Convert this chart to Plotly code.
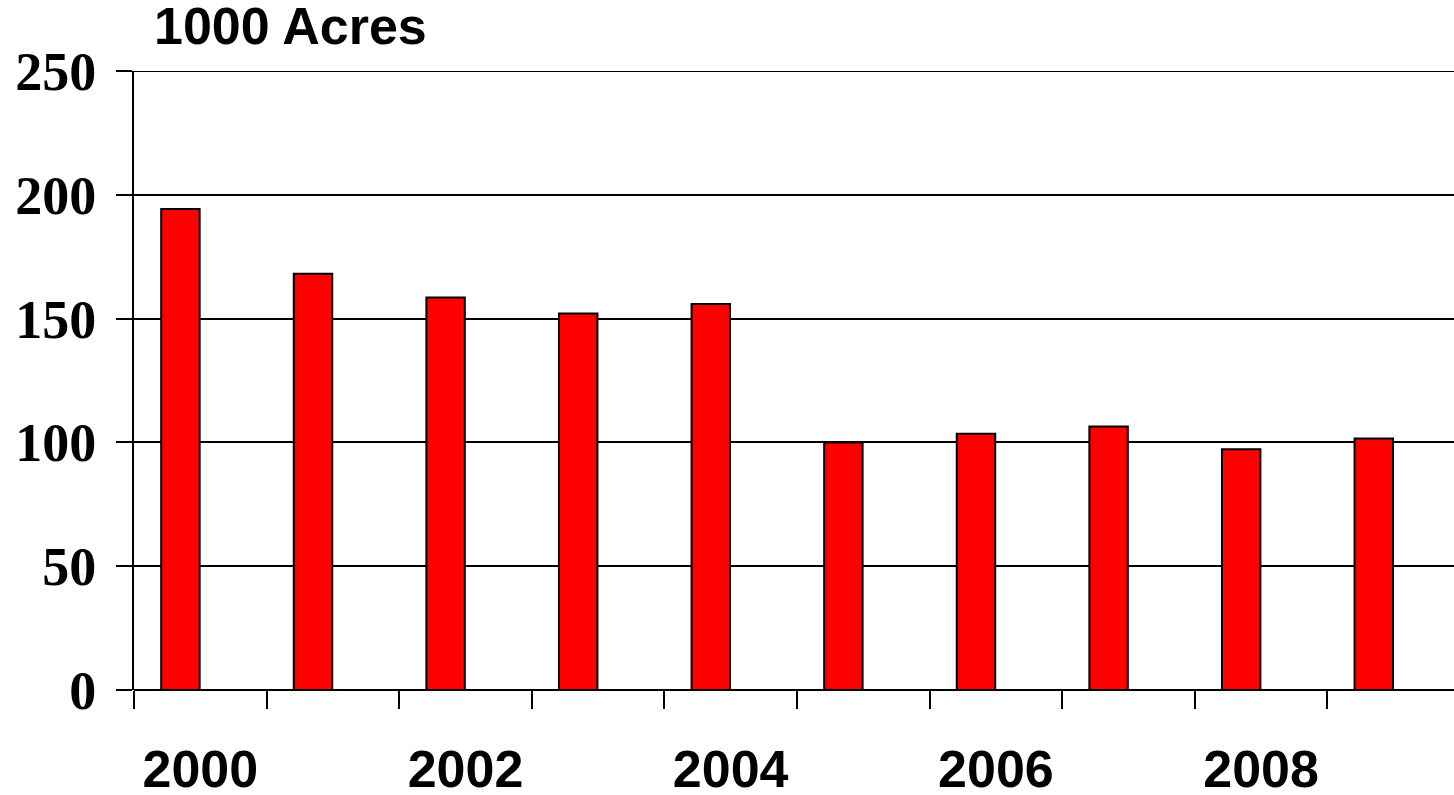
import plotly.graph_objects as go

years = ["2000", "2001", "2002", "2003", "2004", "2005", "2006", "2007", "2008", "2009"]
acres = [194.3, 168.1, 158.5, 152.1, 155.9, 100.0, 103.5, 106.4, 97.2, 101.6]
label_years = ["2000", "2002", "2004", "2006", "2008"]
y_ticks = [0, 50, 100, 150, 200, 250]

xpos = list(range(len(years)))
label_pos = [years.index(y) for y in label_years]
boundaries = [i - 0.5 for i in xpos]

fig = go.Figure()
fig.add_trace(go.Bar(
    x=xpos, y=acres,
    width=0.29, offset=-0.295,
    marker=dict(color="#FF0000", line=dict(color="#000000", width=2)),
    hoverinfo="x+y",
))

# top gridline (plotly omits the grid line at the exact range edge)
fig.add_shape(type="line", xref="paper", yref="y", x0=0, x1=1,
              y0=y_ticks[-1], y1=y_ticks[-1], line=dict(color="black", width=2))

fig.update_layout(
    width=1454, height=795,
    margin=dict(l=134, r=0, t=71, b=105),
    paper_bgcolor="white", plot_bgcolor="white",
    showlegend=False,
    xaxis=dict(
        range=[-0.5, 9.455], automargin=False,
        tickmode="array", tickvals=label_pos, ticktext=label_years,
        ticks="", showgrid=False, zeroline=False,
        showline=False,
        tickfont=dict(family="Arial, Liberation Sans", size=52, color="black", weight="bold"),
        ticklabelstandoff=44,
        minor=dict(tickmode="array", tickvals=boundaries, ticks="outside",
                   ticklen=18, tickwidth=2, tickcolor="black", showgrid=False),
    ),
    yaxis=dict(
        range=[0, 250], automargin=False,
        tickmode="array", tickvals=y_ticks,
        ticks="outside", ticklen=16, tickwidth=2, tickcolor="black",
        showgrid=True, gridcolor="black", gridwidth=2,
        zeroline=True, zerolinecolor="black", zerolinewidth=2,
        showline=True, linecolor="black", linewidth=2,
        tickfont=dict(family="Times New Roman, Liberation Serif", size=54, color="black", weight="bold"),
        ticklabelstandoff=9,
    ),
    annotations=[dict(
        text="1000 Acres", xref="paper", yref="paper",
        x=(152 - 134) / 1320, y=1, xanchor="left", yanchor="bottom",
        yshift=14, showarrow=False,
        font=dict(family="Arial, Liberation Sans", size=52, color="black", weight="bold"),
    )],
)

fig.write_html("out.html",
               config={"displayModeBar": False},
               post_script="document.body.style.margin='0';document.body.style.overflow='hidden';")
